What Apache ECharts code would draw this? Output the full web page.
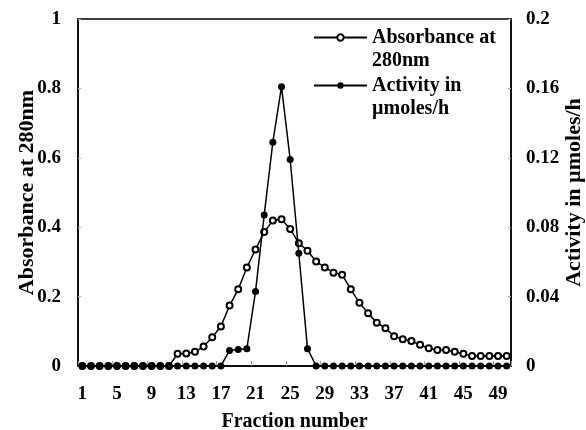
<!DOCTYPE html>
<html>
<head>
<meta charset="utf-8">
<script src="https://cdn.jsdelivr.net/npm/echarts@6/dist/echarts.min.js"></script>
<style>html,body{margin:0;padding:0;background:#fff}#c{width:586px;height:430px}</style>
</head>
<body>
<div id="c"></div>
<script>
const fractions = ['1','2','3','4','5','6','7','8','9','10','11','12','13','14','15','16','17','18','19','20','21','22','23','24','25','26','27','28','29','30','31','32','33','34','35','36','37','38','39','40','41','42','43','44','45','46','47','48','49','50'];
const absorbance = [0,0,0,0,0,0,0,0,0,0,0,0.035,0.036,0.041,0.056,0.083,0.114,0.174,0.221,0.284,0.336,0.386,0.419,0.423,0.395,0.354,0.332,0.301,0.284,0.269,0.263,0.221,0.182,0.152,0.125,0.109,0.086,0.077,0.072,0.061,0.051,0.046,0.046,0.041,0.035,0.029,0.029,0.029,0.029,0.029];
const activity = [0,0,0,0,0,0,0,0,0,0,0,0,0,0,0,0,0,0.009,0.0095,0.010,0.043,0.087,0.129,0.161,0.119,0.065,0.010,0,0,0,0,0,0,0,0,0,0,0,0,0,0,0,0,0,0,0,0,0,0,0];
const absName = 'Absorbance at\n280nm';
const actName = 'Activity in\nµmoles/h';

const FONT = 'Liberation Serif';
const chart = echarts.init(document.getElementById('c'), null, {renderer: 'canvas'});
const lbl = {color: '#000', fontFamily: FONT, fontWeight: 'bold', fontSize: 19};
chart.setOption({
  animation: false,
  backgroundColor: '#fff',
  grid: {left: 78, right: 75, top: 19, bottom: 64, show: true, borderColor: '#000', borderWidth: 1.5, containLabel: false, outerBoundsMode: 'none'},
  legend: {
    orient: 'vertical', left: 313, top: 3, padding: 0, itemWidth: 53, itemHeight: 8, itemGap: -21,
    formatter: function (n) { return '\n' + n; },
    textStyle: {color: '#000', fontFamily: FONT, fontWeight: 'bold', fontSize: 20, lineHeight: 23},
    data: [absName, actName]
  },
  xAxis: {
    type: 'category', data: fractions, boundaryGap: true,
    name: 'Fraction number', nameLocation: 'middle', nameGap: 46, nameMoveOverlap: false,
    nameTextStyle: {color: '#000', fontFamily: FONT, fontWeight: 'bold', fontSize: 20},
    axisLine: {lineStyle: {color: '#000', width: 1.5}},
    axisTick: {show: true, inside: true, length: 5, interval: 3, lineStyle: {color: '#999'}},
    axisLabel: Object.assign({interval: 3, margin: 19}, lbl),
    splitLine: {show: false}
  },
  yAxis: [{
    type: 'value', min: 0, max: 1, interval: 0.2,
    name: 'Absorbance at 280nm', nameLocation: 'middle', nameGap: 40, nameRotate: 90, nameMoveOverlap: false,
    nameTextStyle: {color: '#000', fontFamily: FONT, fontWeight: 'bold', fontSize: 22},
    axisLine: {show: true, lineStyle: {color: '#000', width: 1.5}},
    axisTick: {show: true, inside: true, length: 3, lineStyle: {color: '#aaa'}},
    axisLabel: Object.assign({margin: 17}, lbl),
    splitLine: {show: false}
  }, {
    type: 'value', min: 0, max: 0.2, interval: 0.04, position: 'right',
    name: 'Activity in µmoles/h', nameLocation: 'middle', nameGap: 52, nameRotate: 90, nameMoveOverlap: false,
    nameTextStyle: {color: '#000', fontFamily: FONT, fontWeight: 'bold', fontSize: 22},
    axisLine: {show: true, lineStyle: {color: '#000', width: 1.5}},
    axisTick: {show: true, inside: true, length: 3, lineStyle: {color: '#aaa'}},
    axisLabel: Object.assign({margin: 15}, lbl),
    splitLine: {show: false}
  }],
  series: [{
    name: absName, type: 'line', yAxisIndex: 0, data: absorbance,
    symbol: 'emptyCircle', symbolSize: 6, showAllSymbol: true,
    lineStyle: {color: '#000', width: 1.5},
    itemStyle: {color: '#000', borderColor: '#000', borderWidth: 1.3},
    z: 2
  }, {
    name: actName, type: 'line', yAxisIndex: 1, data: activity,
    symbol: 'circle', symbolSize: 7, showAllSymbol: true,
    lineStyle: {color: '#000', width: 1.5},
    itemStyle: {color: '#000'},
    z: 3
  }]
});
</script>
</body>
</html>
